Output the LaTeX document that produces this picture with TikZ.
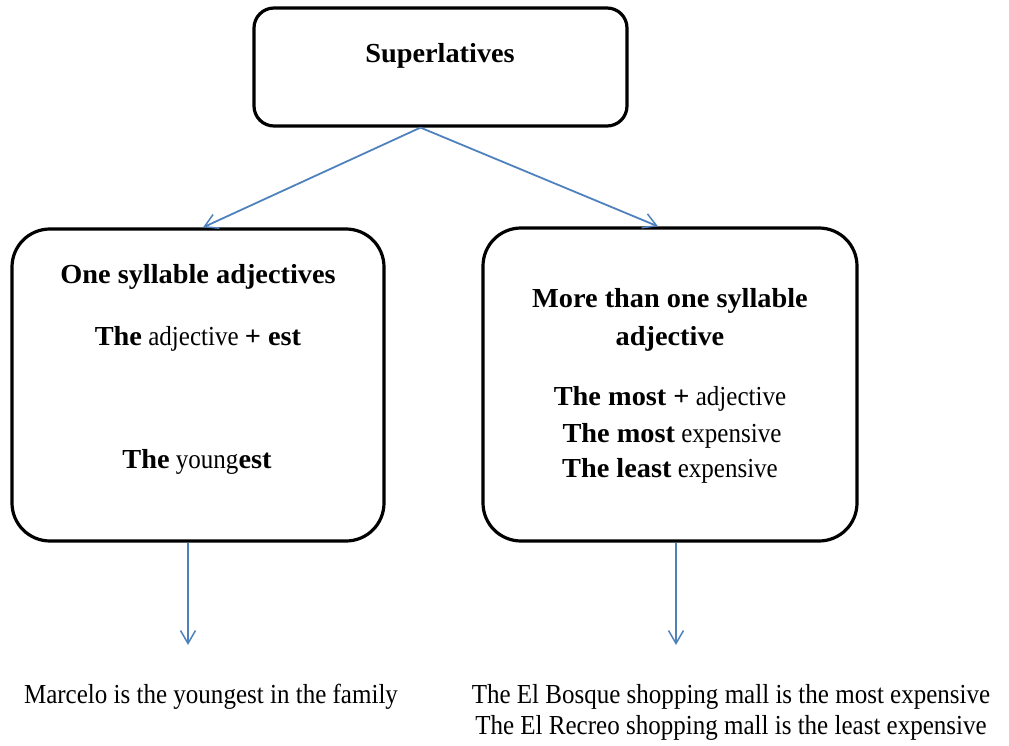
\documentclass[tikz,border=0pt]{standalone}
\usepackage{fontspec}
\setmainfont{Liberation Serif}[FakeStretch=0.91,BoldFeatures={FakeStretch=1.03}]
\usetikzlibrary{arrows.meta}
\definecolor{arrowblue}{RGB}{79,129,189}
\begin{document}
\begin{tikzpicture}[x=1pt,y=-1pt,
  box/.style={draw=black,line width=3.2pt,rounded corners=#1,inner sep=0pt},
  box/.default=38pt,
  txt/.style={font=\fontsize{27.5}{30}\selectfont,inner sep=0pt,anchor=base},
  conn/.style={draw=arrowblue,line width=1.8pt,-{Straight Barb[length=13pt,width=15pt,line width=1.5pt]}}
]
\useasboundingbox (0,0) rectangle (1009,746);
% boxes
\node[box=20pt,minimum width=373pt,minimum height=118pt] (top) at (440.5,67) {};
\node[box,minimum width=372pt,minimum height=312pt] (left) at (198,385) {};
\node[box,minimum width=374pt,minimum height=313pt] (right) at (670,384.5) {};
% texts
\node[txt] (t0) at (440,63) {\textbf{Superlatives}};
\node[txt] (l1) at (198,283) {\textbf{One syllable adjectives}};
\node[txt] (l2) at (198,345) {\textbf{The} adjective \textbf{+ est}};
\node[txt] (l3) at (197,468) {\textbf{The} young\textbf{est}};
\node[txt] (r1) at (670,307) {\textbf{More than one syllable}};
\node[txt] (r2) at (670,345) {\textbf{adjective}};
\node[txt] (r3) at (670,405) {\textbf{The most +} adjective};
\node[txt] (r4) at (672,442) {\textbf{The most} expensive};
\node[txt] (r5) at (670,477) {\textbf{The least} expensive};
\node[txt] (b1) at (211,703) {Marcelo is the youngest in the family};
\node[txt] (b2) at (731,703) {The El Bosque shopping mall is the most expensive};
\node[txt] (b3) at (731,734) {The El Recreo shopping mall is the least expensive};
% connectors
\coordinate (e1) at (188,645);
\coordinate (e2) at (676,645);
\draw[conn] ([xshift=-20pt]top.south) -- ([xshift=5pt]left.north);
\draw[conn] ([xshift=-20pt]top.south) -- ([xshift=-12pt]right.north);
\draw[conn] ([xshift=-10pt]left.south) -- (e1);
\draw[conn] ([xshift=6pt]right.south) -- (e2);
\end{tikzpicture}
\end{document}
